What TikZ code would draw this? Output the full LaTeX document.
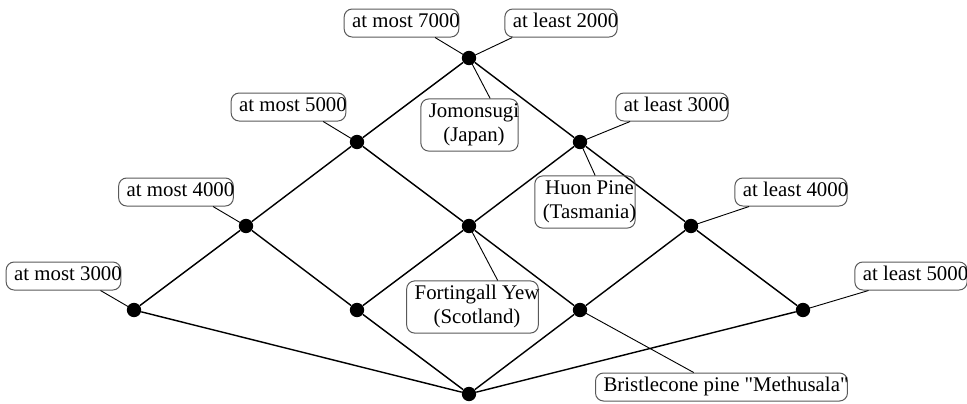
\documentclass[tikz,border=0pt]{standalone}
\usepackage{fontspec}
\setmainfont{Liberation Serif}
\usetikzlibrary{calc}
% label text: a little padding on the left, none on the right
\newcommand{\lbltext}[1]{\begin{tabular}{@{\hspace{4.8pt}}c@{\hspace{-0.6pt}}}#1\end{tabular}}
\begin{document}
\begin{tikzpicture}[x=0.6pt,y=-0.6pt,
  dot/.style={circle,fill=black,inner sep=0pt,minimum size=8.6pt},
  lbl/.style={draw=black!65,line width=0.6pt,rounded corners=4.8pt,
    inner xsep=0pt,inner ysep=1.15pt,font=\fontsize{12.5}{14.5}\selectfont},
  lattice/.style={line width=0.85pt},
  tie/.style={line width=0.55pt}]
\useasboundingbox (0,0) rectangle (967,403);

% lattice points
\node[dot] (top) at (469,58) {};
\node[dot] (a1) at (357,142) {};
\node[dot] (a2) at (580,142) {};
\node[dot] (b1) at (246,226) {};
\node[dot] (b2) at (469,226) {};
\node[dot] (b3) at (691,226) {};
\node[dot] (c1) at (134,310) {};
\node[dot] (c2) at (357,310) {};
\node[dot] (c3) at (580,310) {};
\node[dot] (c4) at (803,310) {};
\node[dot] (bot) at (469,394) {};

% lattice edges
\draw[lattice] (top) -- (a1) (top) -- (a2)
  (a1) -- (b1) (a1) -- (b2) (a2) -- (b2) (a2) -- (b3)
  (b1) -- (c1) (b1) -- (c2) (b2) -- (c2) (b2) -- (c3)
  (b3) -- (c3) (b3) -- (c4)
  (bot) -- (c1) (bot) -- (c2) (bot) -- (c3) (bot) -- (c4);

% labels
\node[lbl] (m7) at (401.5,23) {\lbltext{at most 7000}};
\node[lbl] (l2) at (561,23) {\lbltext{at least 2000}};
\node[lbl] (jo) at (469.5,125) {\lbltext{Jomonsugi\\(Japan)}};
\node[lbl] (m5) at (288.5,107) {\lbltext{at most 5000}};
\node[lbl] (l3) at (672,107) {\lbltext{at least 3000}};
\node[lbl] (hu) at (585,202) {\lbltext{Huon Pine\\(Tasmania)}};
\node[lbl] (m4) at (176,192) {\lbltext{at most 4000}};
\node[lbl] (l4) at (791,192) {\lbltext{at least 4000}};
\node[lbl] (fo) at (472.5,307) {\lbltext{Fortingall Yew\\(Scotland)}};
\node[lbl] (m3) at (63.5,276) {\lbltext{at most 3000}};
\node[lbl] (l5) at (911,276) {\lbltext{at least 5000}};
\node[lbl] (br) at (721.5,387) {\lbltext{Bristlecone pine \textquotedbl Methusala\textquotedbl}};

% label ties
\draw[tie] ($(m7.south west)!0.79!(m7.south east)$) -- (top.center);
\draw[tie] ($(l2.south west)!0.07!(l2.south east)$) -- (top.center);
\draw[tie] ($(jo.north west)!0.71!(jo.north east)$) -- (top.center);
\draw[tie] ($(m5.south west)!0.8!(m5.south east)$) -- (a1.center);
\draw[tie] ($(l3.south west)!0.13!(l3.south east)$) -- (a2.center);
\draw[tie] ($(hu.north west)!0.6!(hu.north east)$) -- (a2.center);
\draw[tie] ($(m4.south west)!0.82!(m4.south east)$) -- (b1.center);
\draw[tie] ($(l4.south west)!0.13!(l4.south east)$) -- (b3.center);
\draw[tie] ($(fo.north west)!0.69!(fo.north east)$) -- (b2.center);
\draw[tie] ($(m3.south west)!0.82!(m3.south east)$) -- (c1.center);
\draw[tie] ($(l5.south west)!0.125!(l5.south east)$) -- (c4.center);
\draw[tie] ($(br.north west)!0.39!(br.north east)$) -- (c3.center);
\end{tikzpicture}
\end{document}
